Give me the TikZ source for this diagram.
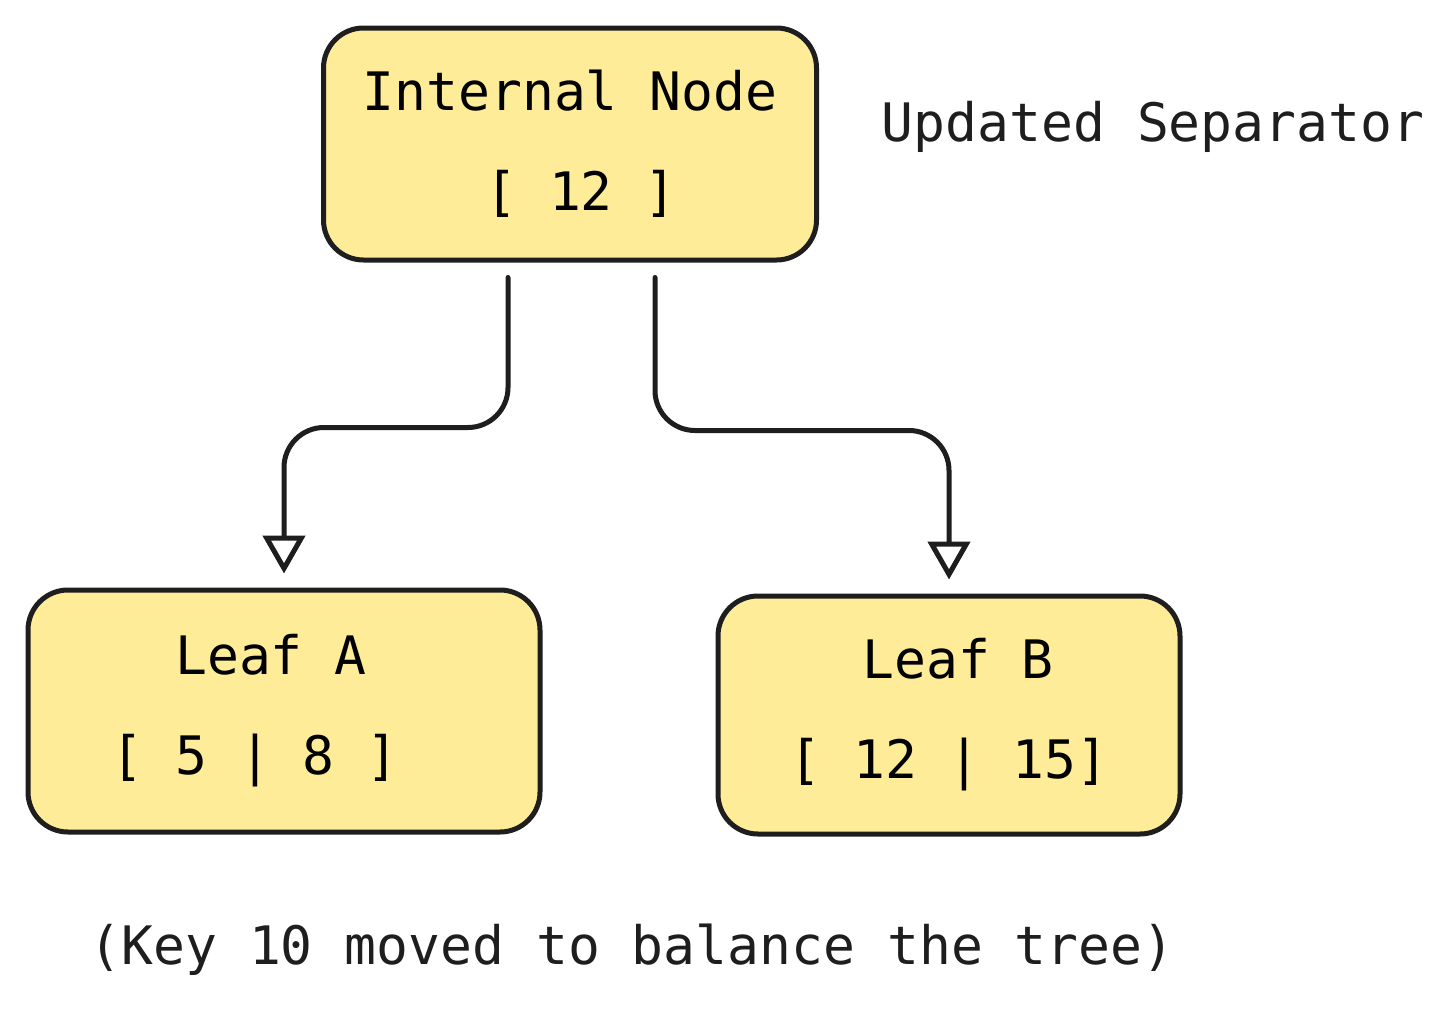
\documentclass[tikz,border=0pt]{standalone}
\usepackage{fontspec}
\setmonofont{DejaVu Sans Mono}
\usepackage{tikz}
\usetikzlibrary{arrows.meta,positioning,calc}
\definecolor{stroke}{HTML}{1E1E1E}
\definecolor{nodefill}{HTML}{FFEC99}

\begin{document}
\begin{tikzpicture}[
    x=1pt, y=-1pt,
    font=\ttfamily\fontsize{53}{100}\selectfont,
    box/.style={draw=stroke, fill=nodefill, line width=5pt, rounded corners=40pt, align=center, inner sep=0pt},
    arrow/.style={line width=5pt, draw=stroke, rounded corners=40pt, line cap=round,
        -{Triangle[open, length=38pt, width=42pt, line width=5pt, fill=white]}, shorten >=14pt},
    label/.style={text=stroke}
]
    \useasboundingbox (0,0) rectangle (1456,1020);

    \node[box, minimum width=493pt, minimum height=232pt] (internal) at (570,144) {Internal Node\\\hspace*{22pt}{[} 12 ]};
    \node[box, minimum width=512pt, minimum height=242pt] (leafa) at (284,711) {Leaf A\hspace*{26pt}\\{[} 5 | 8 ]\hspace*{58pt}};
    \node[box, minimum width=462pt, minimum height=238pt] (leafb) at (949,715) {\hspace*{18pt}Leaf B\\{[} 12 | 15]};

    \node[label] (sep) at (1153,127) {Updated Separator};
    \node[label] (note) at (632,950) {(Key 10 moved to balance the tree)};

    \draw[arrow] ($(internal.south)+(-62,15)$) -- ++(0,150) -| (leafa.north);
    \draw[arrow] ($(internal.south)+(85,15)$) -- ++(0,153) -| (leafb.north);
\end{tikzpicture}
\end{document}
